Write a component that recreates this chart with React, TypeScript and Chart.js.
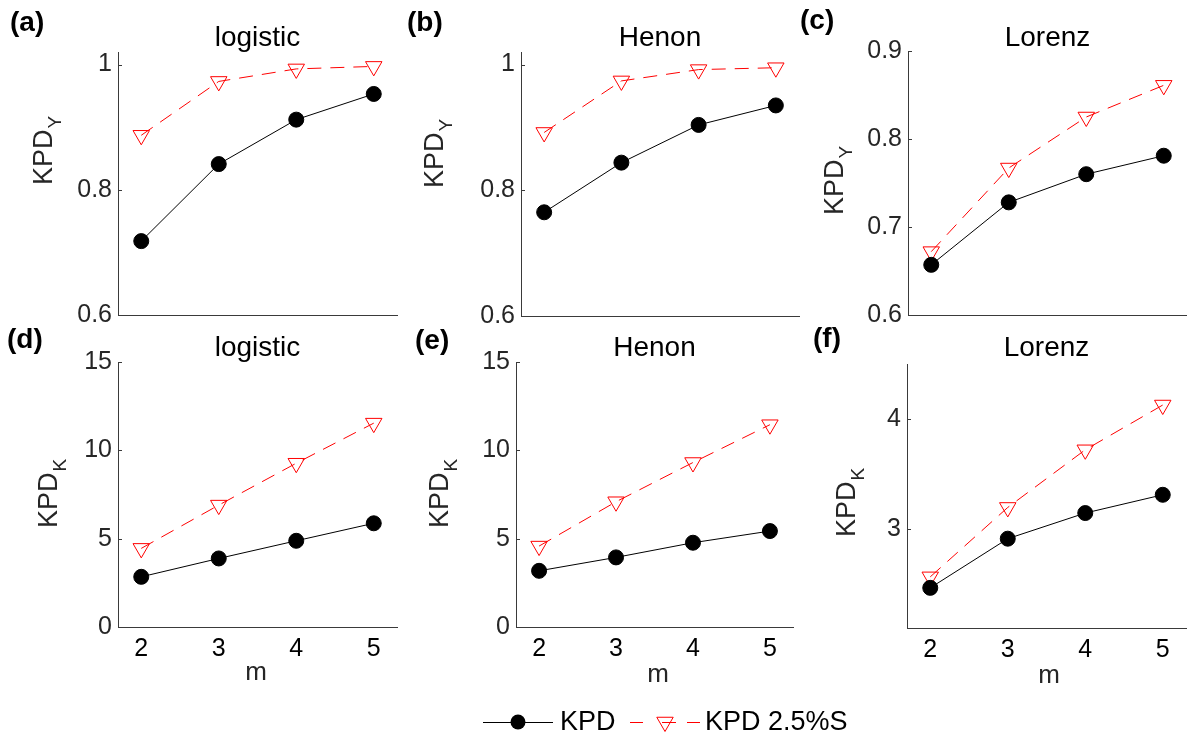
import React, { useEffect, useRef } from 'react';
import { Chart, registerables } from 'chart.js';

Chart.register(...registerables);

// ---------- data ----------
const M = [2, 3, 4, 5];
const X_TICKS = [2, 3, 4, 5];

const KPD_A = [0.718, 0.841, 0.912, 0.953];
const KPDS_A = [0.887, 0.973, 0.993, 0.997];
const KPD_B = [0.765, 0.844, 0.904, 0.935];
const KPDS_B = [0.892, 0.974, 0.992, 0.995];
const KPD_C = [0.657, 0.728, 0.76, 0.781];
const KPDS_C = [0.672, 0.767, 0.825, 0.861];
const KPD_D = [2.84, 3.88, 4.88, 5.87];
const KPDS_D = [4.45, 6.9, 9.27, 11.54];
const KPD_E = [3.18, 3.94, 4.77, 5.43];
const KPDS_E = [4.58, 7.09, 9.31, 11.45];
const KPD_F = [2.465, 2.912, 3.145, 3.311];
const KPDS_F = [2.565, 3.196, 3.72, 4.127];

const Y_TICKS_AB = [0.6, 0.8, 1];
const Y_TICKS_C = [0.6, 0.7, 0.8, 0.9];
const Y_TICKS_DE = [0, 5, 10, 15];
const Y_TICKS_F = [3, 4];

const TITLES = ['logistic', 'Henon', 'Lorenz', 'logistic', 'Henon', 'Lorenz'];
const LETTERS = ['(a)', '(b)', '(c)', '(d)', '(e)', '(f)'];
const SERIES_NAMES = ['KPD', 'KPD 2.5%S'];
const X_LABEL = 'm';
const Y_LABEL_BASE = 'KPD';
const Y_SUBS = ['Y', 'Y', 'Y', 'K', 'K', 'K'];

// ---------- layout / style ----------
const W = 1187;
const H = 738;
const FONT = "'Liberation Sans', Arial, Helvetica, sans-serif";
const AXIS = '#3a3a3a';
const Y_W = 60;
const X_H = 40;
const DASH = [14, 9];

const PANELS = [
  { kpd: KPD_A, kpds: KPDS_A, yMin: 0.6, yMax: 1.02, yTicks: Y_TICKS_AB, rect: [118, 52, 397, 315], bottom: false, letter: [10, 31], yl: [52, 185], xl: null, titleY: 46 },
  { kpd: KPD_B, kpds: KPDS_B, yMin: 0.6, yMax: 1.02, yTicks: Y_TICKS_AB, rect: [521, 52, 799, 316], bottom: false, letter: [407, 31], yl: [443, 188], xl: null, titleY: 46 },
  { kpd: KPD_C, kpds: KPDS_C, yMin: 0.6, yMax: 0.9, yTicks: Y_TICKS_C, rect: [908, 51, 1187, 315], bottom: false, letter: [800, 29], yl: [843, 215], xl: null, titleY: 46 },
  { kpd: KPD_D, kpds: KPDS_D, yMin: 0, yMax: 15, yTicks: Y_TICKS_DE, rect: [118, 362, 397, 627], bottom: true, letter: [7, 348], yl: [57, 528], xl: [256, 680], titleY: 356 },
  { kpd: KPD_E, kpds: KPDS_E, yMin: 0, yMax: 15, yTicks: Y_TICKS_DE, rect: [516, 362, 793, 627], bottom: true, letter: [415, 349], yl: [448, 528], xl: [658, 682], titleY: 356 },
  { kpd: KPD_F, kpds: KPDS_F, yMin: 2.1, yMax: 4.5, yTicks: Y_TICKS_F, rect: [907, 364, 1186, 628], bottom: true, letter: [813, 347], yl: [855, 537], xl: [1049, 683], titleY: 356 },
];

function drawTriangleDown(ctx: CanvasRenderingContext2D, x: number, y: number, r: number) {
  ctx.beginPath();
  for (let k = 0; k < 3; k++) {
    const a = Math.PI + (k * 2 * Math.PI) / 3;
    const px = x + Math.sin(a) * r;
    const py = y - Math.cos(a) * r;
    if (k === 0) ctx.moveTo(px, py);
    else ctx.lineTo(px, py);
  }
  ctx.closePath();
  ctx.stroke();
}

const decorPlugin = {
  id: 'decor',
  afterDraw(chart: any, _args: any, opts: any) {
    const ctx: CanvasRenderingContext2D = chart.ctx;
    const ca = chart.chartArea;
    ctx.save();
    // inward y ticks
    const ys = chart.scales.y;
    ctx.strokeStyle = AXIS;
    ctx.lineWidth = 1;
    ys.ticks.forEach((t: any) => {
      const py = Math.round(ys.getPixelForValue(t.value)) + 0.5;
      ctx.beginPath();
      ctx.moveTo(ca.left, py);
      ctx.lineTo(ca.left + 4, py);
      ctx.stroke();
    });
    // title
    ctx.fillStyle = '#000';
    ctx.font = `28px ${FONT}`;
    ctx.textAlign = 'center';
    ctx.textBaseline = 'alphabetic';
    ctx.fillText(opts.title, (ca.left + ca.right) / 2, opts.titleY);
    // panel letter
    ctx.font = `bold 28px ${FONT}`;
    ctx.textAlign = 'left';
    ctx.fillText(opts.letter, opts.letterX, opts.letterY);
    // y label with subscript
    ctx.save();
    ctx.translate(opts.ylX, opts.ylY);
    ctx.rotate(-Math.PI / 2);
    ctx.fillStyle = '#262626';
    ctx.font = `27px ${FONT}`;
    ctx.textAlign = 'left';
    ctx.fillText(opts.ylBase, 0, 0);
    const bw = ctx.measureText(opts.ylBase).width;
    ctx.font = `19px ${FONT}`;
    ctx.fillText(opts.ylSub, bw + 1, 9);
    ctx.restore();
    // x label
    if (opts.xlShow) {
      ctx.fillStyle = '#262626';
      ctx.font = `26px ${FONT}`;
      ctx.textAlign = 'center';
      ctx.fillText(opts.xlText, opts.xlX, opts.xlY);
    }
    // legend
    if (opts.legend) {
      const ly = 722;
      ctx.strokeStyle = '#000';
      ctx.lineWidth = 1;
      ctx.setLineDash([]);
      ctx.beginPath();
      ctx.moveTo(483, ly + 0.5);
      ctx.lineTo(553, ly + 0.5);
      ctx.stroke();
      ctx.fillStyle = '#000';
      ctx.beginPath();
      ctx.arc(518, ly, 7.5, 0, Math.PI * 2);
      ctx.fill();
      ctx.font = `27px ${FONT}`;
      ctx.textAlign = 'left';
      ctx.textBaseline = 'middle';
      ctx.fillText(opts.names[0], 560, ly + 1);
      ctx.strokeStyle = '#ff0000';
      const segs = [[630, 643], [662, 676], [687, 700]];
      segs.forEach(([a, b]) => {
        ctx.beginPath();
        ctx.moveTo(a, ly + 0.5);
        ctx.lineTo(b, ly + 0.5);
        ctx.stroke();
      });
      drawTriangleDown(ctx, 665, ly, 9.5);
      ctx.fillStyle = '#000';
      ctx.fillText(opts.names[1], 705, ly + 1);
    }
    ctx.restore();
  },
};

function Panel({ idx }: { idx: number }) {
  const ref = useRef<HTMLCanvasElement | null>(null);
  useEffect(() => {
    const p = PANELS[idx];
    const [L, T, R, B] = p.rect;
    const chart = new Chart(ref.current as HTMLCanvasElement, {
      type: 'line',
      data: {
        datasets: [
          {
            label: SERIES_NAMES[0],
            data: M.map((m, i) => ({ x: m, y: p.kpd[i] })),
            borderColor: '#000',
            borderWidth: 1,
            pointStyle: 'circle',
            pointRadius: 7.5,
            pointBackgroundColor: '#000',
            pointBorderColor: '#000',
            pointBorderWidth: 1,
            clip: false,
            order: 0,
          },
          {
            label: SERIES_NAMES[1],
            data: M.map((m, i) => ({ x: m, y: p.kpds[i] })),
            borderColor: '#ff0000',
            borderWidth: 1,
            borderDash: DASH,
            pointStyle: 'triangle',
            rotation: 180,
            pointRadius: 9.5,
            pointBackgroundColor: 'rgba(0,0,0,0)',
            pointBorderColor: '#ff0000',
            pointBorderWidth: 1,
            clip: false,
            order: 1,
          },
        ],
      } as any,
      options: {
        responsive: false,
        animation: false,
        devicePixelRatio: 1,
        events: [],
        layout: {
          autoPadding: false,
          padding: { left: L - Y_W, top: T, right: W - R, bottom: H - B - X_H },
        },
        plugins: {
          legend: { display: false },
          tooltip: { enabled: false },
          decor: {
            title: TITLES[idx],
            titleY: p.titleY,
            letter: LETTERS[idx],
            letterX: p.letter[0],
            letterY: p.letter[1],
            ylBase: Y_LABEL_BASE,
            ylSub: Y_SUBS[idx],
            ylX: p.yl[0],
            ylY: p.yl[1],
            xlShow: !!p.xl,
            xlText: X_LABEL,
            xlX: p.xl ? p.xl[0] : 0,
            xlY: p.xl ? p.xl[1] : 0,
            legend: idx === 3,
            names: SERIES_NAMES,
          },
        } as any,
        scales: {
          x: {
            type: 'linear',
            min: 1.7,
            max: 5.3,
            afterBuildTicks: (s: any) => {
              s.ticks = X_TICKS.map((v) => ({ value: v }));
            },
            afterFit: (s: any) => {
              s.height = X_H;
            },
            grid: { display: false, drawTicks: false },
            border: { display: true, color: AXIS, width: 1 },
            ticks: {
              display: p.bottom,
              padding: 7,
              color: '#000',
              font: { size: 25, family: FONT },
              maxRotation: 0,
              autoSkip: false,
            },
          },
          y: {
            type: 'linear',
            min: p.yMin,
            max: p.yMax,
            afterBuildTicks: (s: any) => {
              s.ticks = p.yTicks.map((v) => ({ value: v }));
            },
            afterFit: (s: any) => {
              s.width = Y_W;
            },
            grid: { display: false, drawTicks: false },
            border: { display: true, color: AXIS, width: 1 },
            ticks: {
              padding: 6,
              color: '#262626',
              font: { size: 25, family: FONT },
              autoSkip: false,
              callback: (v: any) => String(v),
            },
          },
        } as any,
      },
      plugins: [decorPlugin as any],
    });
    return () => chart.destroy();
  }, [idx]);
  return (
    <canvas
      ref={ref}
      width={W}
      height={H}
      style={{ position: 'absolute', left: 0, top: 0, width: W, height: H }}
    />
  );
}

export default function App() {
  return (
    <div style={{ position: 'fixed', left: 0, top: 0, width: W, height: H, background: '#fff', overflow: 'hidden' }}>
      {PANELS.map((_, i) => (
        <Panel key={i} idx={i} />
      ))}
    </div>
  );
}
